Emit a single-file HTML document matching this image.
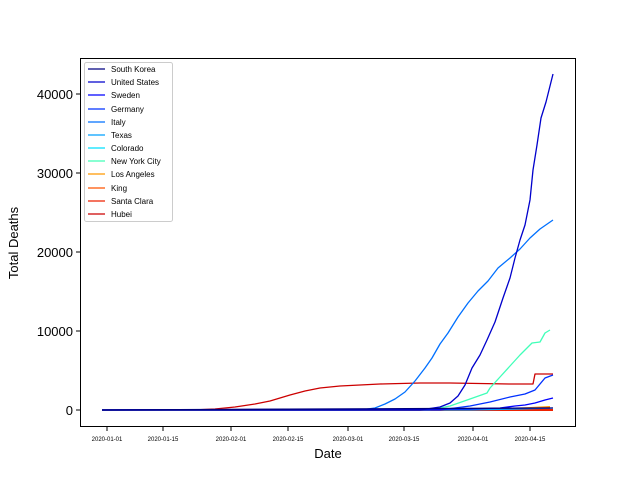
<!DOCTYPE html>
<html><head><meta charset="utf-8"><style>body{margin:0;background:#fff}svg{display:block}</style></head><body>
<svg width="640" height="480" xmlns="http://www.w3.org/2000/svg" font-family="Liberation Sans, DejaVu Sans, sans-serif">
<rect width="640" height="480" fill="#fff"/>
<g fill="none" stroke-width="1.3" stroke-linejoin="round">
<polyline stroke="#cc0000" points="192,410 215,409 235,407 255,404 270,401 280,398 290,395 305,391 320,388 340,386 360,385 380,384 420,383 450,383 510,384 533,384 535,374 553,374"/>
<polyline stroke="#ff9900" stroke-width="2" points="102,410 450,410 500,409 530,408 550,407"/>
<polyline stroke="#ff5500" stroke-width="2" points="102,410 470,410 520,409 550,408"/>
<polyline stroke="#ee2200" stroke-width="2" points="102,410 553,410"/>
<polyline stroke="#40ffb8" points="102,410 430,410 450,406 470,399 487,393 490,388 500,377 510,366 520,355 532,343 540,342 545,333 550,330"/>
<polyline stroke="#00a0ff" points="102,410 470,410 520,409 553,408"/>
<polyline stroke="#0070ff" points="102,410 360,410 375,408 385,404 395,399 405,392 415,381 425,368 432,358 440,344 448,333 458,317 468,303 478,291 488,281 498,268 510,258 520,249 530,238 540,229 553,220"/>
<polyline stroke="#0030ff" points="102,410 440,410 470,406 490,402 510,397 525,394 535,390 545,378 553,375"/>
<polyline stroke="#0000ff" points="102,410 470,409 500,408 515,406 525,405 535,403 545,400 553,398"/>
<polyline stroke="#0000cc" points="102,410 420,410 440,407 450,403 458,396 465,385 472,368 480,355 487,340 495,322 503,298 510,278 515,258 520,240 525,225 530,200 533,170 537,145 541,118 546,102 553,74"/>
<polyline stroke="#000080" points="102,410 553,408"/>
</g>
<rect x="80.5" y="58.5" width="495" height="368" fill="none" stroke="#000" stroke-width="1"/>
<g stroke="#000">
<line x1="76" x2="80" y1="410" y2="410"/><line x1="76" x2="80" y1="331" y2="331"/><line x1="76" x2="80" y1="252" y2="252"/><line x1="76" x2="80" y1="173" y2="173"/><line x1="76" x2="80" y1="94" y2="94"/>
<line y1="427" y2="431" x1="107" x2="107"/><line y1="427" y2="431" x1="163" x2="163"/><line y1="427" y2="431" x1="231" x2="231"/><line y1="427" y2="431" x1="288" x2="288"/><line y1="427" y2="431" x1="348" x2="348"/><line y1="427" y2="431" x1="404" x2="404"/><line y1="427" y2="431" x1="473" x2="473"/><line y1="427" y2="431" x1="530" x2="530"/>
</g>
<g font-size="13" text-anchor="end" fill="#000">
<text x="73" y="415">0</text><text x="73" y="336">10000</text><text x="73" y="257">20000</text><text x="73" y="178">30000</text><text x="73" y="99">40000</text>
</g>
<g font-size="6" text-anchor="middle" fill="#000">
<text x="107" y="441">2020-01-01</text><text x="163" y="441">2020-01-15</text><text x="231" y="441">2020-02-01</text><text x="288" y="441">2020-02-15</text><text x="348" y="441">2020-03-01</text><text x="404" y="441">2020-03-15</text><text x="473" y="441">2020-04-01</text><text x="530" y="441">2020-04-15</text>
</g>
<text x="328" y="458" font-size="13" text-anchor="middle">Date</text>
<text transform="translate(18,243) rotate(-90)" font-size="13" text-anchor="middle">Total Deaths</text>
<rect x="84.5" y="62.5" width="88" height="159" fill="#fff" stroke="#ccc" rx="2"/>
<g stroke-width="1.3">
<line x1="88" x2="105" y1="69" y2="69" stroke="#000080"/>
<line x1="88" x2="105" y1="82" y2="82" stroke="#0000cc"/>
<line x1="88" x2="105" y1="95" y2="95" stroke="#0000ff"/>
<line x1="88" x2="105" y1="109" y2="109" stroke="#0030ff"/>
<line x1="88" x2="105" y1="122" y2="122" stroke="#0070ff"/>
<line x1="88" x2="105" y1="135" y2="135" stroke="#00a0ff"/>
<line x1="88" x2="105" y1="148" y2="148" stroke="#00e0ff"/>
<line x1="88" x2="105" y1="161" y2="161" stroke="#40ffb8"/>
<line x1="88" x2="105" y1="174" y2="174" stroke="#ff9900"/>
<line x1="88" x2="105" y1="188" y2="188" stroke="#ff5500"/>
<line x1="88" x2="105" y1="201" y2="201" stroke="#ee2200"/>
<line x1="88" x2="105" y1="214" y2="214" stroke="#cc0000"/>
</g>
<g font-size="8" fill="#000">
<text x="111" y="72">South Korea</text><text x="111" y="85">United States</text><text x="111" y="98">Sweden</text><text x="111" y="112">Germany</text><text x="111" y="125">Italy</text><text x="111" y="138">Texas</text><text x="111" y="151">Colorado</text><text x="111" y="164">New York City</text><text x="111" y="177">Los Angeles</text><text x="111" y="191">King</text><text x="111" y="204">Santa Clara</text><text x="111" y="217">Hubei</text>
</g>
</svg>
</body></html>
